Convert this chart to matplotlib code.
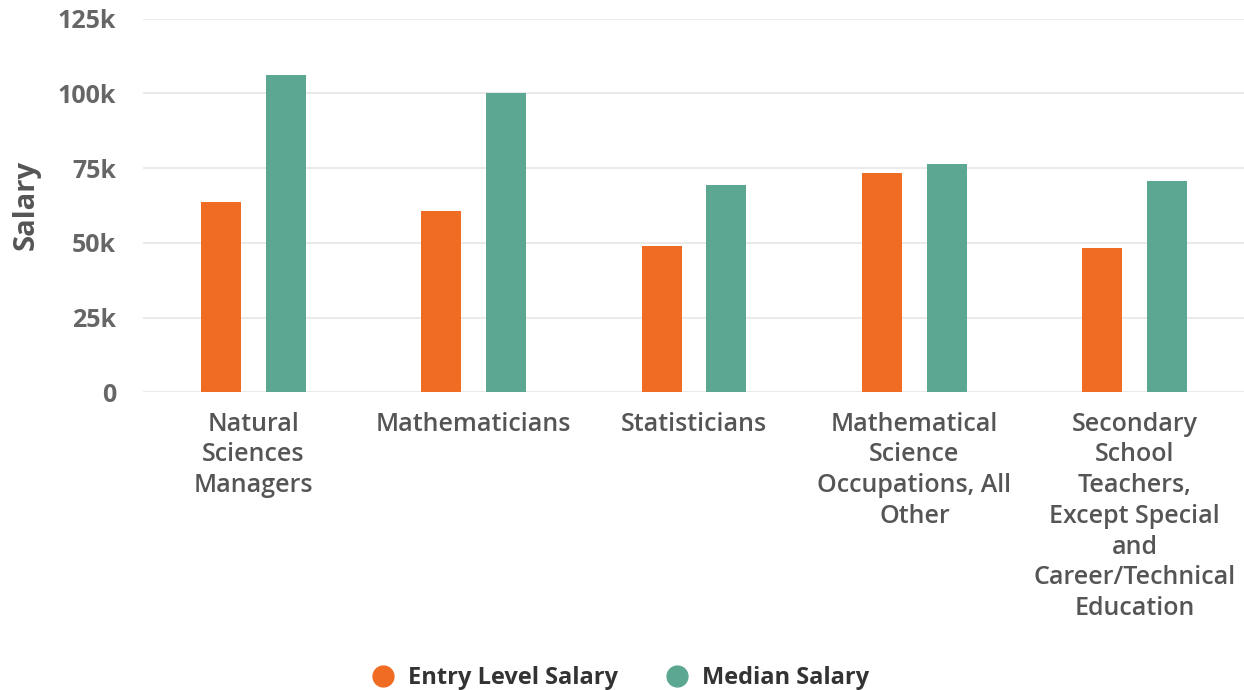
import matplotlib
matplotlib.use("Agg")
import matplotlib.pyplot as plt
import numpy as np
from matplotlib.lines import Line2D

categories = [
    "Natural\nSciences\nManagers",
    "Mathematicians",
    "Statisticians",
    "Mathematical\nScience\nOccupations, All\nOther",
    "Secondary\nSchool\nTeachers,\nExcept Special\nand\nCareer/Technical\nEducation",
]
entry_salary = [63500, 60500, 49000, 73200, 48400]
median_salary = [106000, 100100, 69200, 76500, 70500]
y_ticks = [0, 25000, 50000, 75000, 100000, 125000]
y_tick_labels = ["0", "25k", "50k", "75k", "100k", "125k"]
series_names = ["Entry Level Salary", "Median Salary"]

ORANGE = "#F06C22"
GREEN = "#5BA792"

plt.rcParams["font.family"] = ["Open Sans", "DejaVu Sans"]

fig = plt.figure(figsize=(12.44, 6.9), dpi=100)
ax = fig.add_axes([143/1244, 1 - 392.3/690, (1245-143)/1244, (392.3-18.5)/690])

x = np.arange(len(categories))
w = 0.181
off = 0.147
ax.bar(x - off, entry_salary, width=w, color=ORANGE, zorder=3)
ax.bar(x + off, median_salary, width=w, color=GREEN, zorder=3)

ax.set_xlim(-0.5, len(categories) - 0.5)
ax.set_ylim(0, 125000)
ax.set_yticks(y_ticks)
ax.set_yticklabels(y_tick_labels)
ax.yaxis.grid(True, color="#e6e6e6", linewidth=1.2, zorder=0)
ax.set_axisbelow(True)
for s in ax.spines.values():
    s.set_visible(False)
ax.tick_params(axis="both", length=0)
ax.tick_params(axis="y", pad=19.5, labelsize=18, labelcolor="#666666")
for t in ax.get_yticklabels():
    t.set_fontweight("bold")

ax.set_xticks(x)
ax.set_xticklabels(categories, fontsize=18, color="#555555", fontweight="semibold",
                   linespacing=1.3)
ax.tick_params(axis="x", pad=14)

ax.set_ylabel("Salary", fontsize=21, fontweight="bold", color="#555555")
ax.yaxis.set_label_coords(-0.093, 0.5)

handles = [
    Line2D([], [], marker="o", linestyle="none", markersize=15, markerfacecolor=ORANGE,
           markeredgecolor=ORANGE),
    Line2D([], [], marker="o", linestyle="none", markersize=15, markerfacecolor=GREEN,
           markeredgecolor=GREEN),
]
leg = fig.legend(handles, series_names, loc="center", bbox_to_anchor=(620/1244, 1 - 678/690),
                 ncol=2, frameon=False, handletextpad=0.55, columnspacing=2.0,
                 prop={"size": 17, "weight": "bold"}, handlelength=1.0)
for t in leg.get_texts():
    t.set_color("#333333")

fig.savefig("out.png", dpi=100, facecolor="white")
